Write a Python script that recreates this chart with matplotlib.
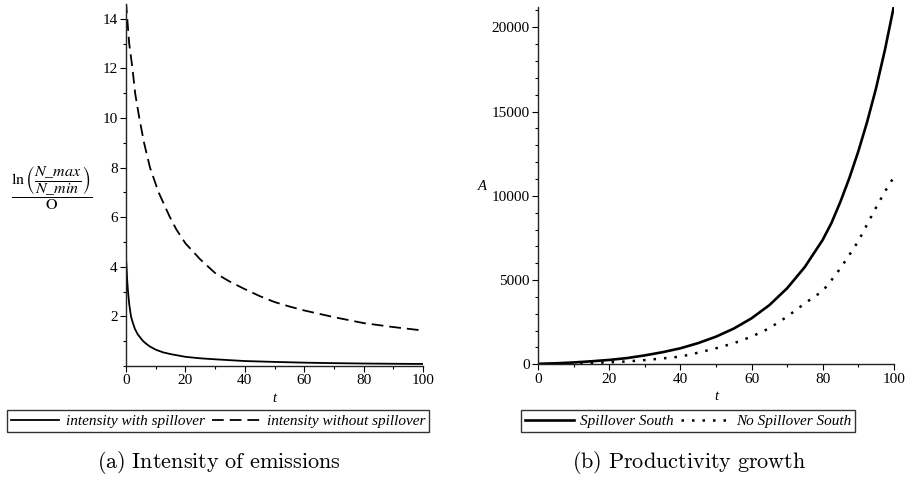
import matplotlib
matplotlib.use("Agg")
import matplotlib.pyplot as plt
from matplotlib.ticker import MultipleLocator, FixedLocator

plt.rcParams['font.family'] = ['Liberation Serif', 'DejaVu Serif']

# (a) intensity of emissions
t_with = [0, 0.2, 0.4, 0.7, 1.1, 1.7, 2.3, 3.0, 4.0, 5.8, 7, 8, 10, 12.5, 15, 20, 25,
          30, 40, 50, 60, 70, 80, 90, 100]
int_with = [4.4, 4.0, 3.5, 3.0, 2.5, 2.0, 1.75, 1.5, 1.27, 1.0, 0.88, 0.79, 0.66, 0.55,
            0.48, 0.37, 0.31, 0.27, 0.2, 0.165, 0.135, 0.115, 0.1, 0.09, 0.082]
t_without = [0, 0.45, 1.1, 2.2, 3.1, 4.5, 6.1, 8.1, 11, 14.8, 17, 20, 25, 30, 35, 40,
             45, 50, 55, 60, 70, 80, 90, 100]
int_without = [14.7, 14.0, 13.0, 12.0, 11.0, 10.0, 9.0, 8.0, 7.0, 6.0, 5.5, 4.95, 4.3,
               3.75, 3.4, 3.1, 2.82, 2.58, 2.4, 2.24, 1.97, 1.73, 1.57, 1.43]

# (b) productivity growth
t_prod = [0, 5, 10, 15, 20, 25, 30, 35, 40, 45, 50, 55, 60, 65, 70, 75, 80, 82.5, 85,
          87.5, 90, 92.5, 95, 97.5, 100]
spill_south = [30, 60, 110, 180, 260, 370, 530, 720, 950, 1260, 1640, 2120, 2730, 3510,
               4510, 5780, 7380, 8400, 9650, 11050, 12620, 14380, 16370, 18650, 21220]
t_nospill = [0, 10, 20, 25, 30, 35, 40, 45, 50, 55, 60, 65, 70, 75, 80, 82.5, 85, 87.5,
             90, 92.5, 95, 97.5, 100]
nospill_south = [0, 30, 120, 170, 250, 350, 455, 690, 950, 1250, 1640, 2140, 2830, 3620,
                 4350, 5000, 5700, 6490, 7300, 8300, 9300, 10250, 11100]

legend_a = ["intensity with spillover", "intensity without spillover"]
legend_b = ["Spillover South", "No Spillover South"]
captions = [r"$\mathrm{(a)\ Intensity\ of\ emissions}$",
            r"$\mathrm{(b)\ Productivity\ growth}$"]

fig = plt.figure(figsize=(9.06, 4.84), dpi=100)
ax1 = fig.add_axes([0.139, 0.2438, 0.328, 0.748])
ax2 = fig.add_axes([0.594, 0.2473, 0.3925, 0.738])


def maple_axes(ax):
    ax.spines['top'].set_visible(False)
    ax.spines['right'].set_visible(False)
    for s in ('left', 'bottom'):
        ax.spines[s].set_linewidth(1.0)
        ax.spines[s].set_color('#222222')
    ax.tick_params(which='major', direction='out', length=4, width=0.8,
                   labelsize=11, pad=2)
    ax.tick_params(which='minor', direction='out', length=2.5, width=0.8)
    ax.xaxis.set_major_locator(MultipleLocator(20))
    ax.xaxis.set_minor_locator(MultipleLocator(10))
    ax.set_xlim(0, 100)
    ax.set_xlabel("t", style='italic', fontsize=10.5, labelpad=3)


maple_axes(ax1)
l1, = ax1.plot(t_with, int_with, color='black', lw=1.3)
l2, = ax1.plot(t_without, int_without, color='black', lw=1.3, ls=(0, (6.5, 3.3)))
ax1.set_ylim(0, 14.6)
ax1.yaxis.set_major_locator(FixedLocator([2, 4, 6, 8, 10, 12, 14]))
ax1.yaxis.set_minor_locator(MultipleLocator(1))
fig.text(52 / 906, 1 - 188 / 484,
         r"$\dfrac{\ln\left(\dfrac{N\_max}{N\_min}\right)}{\mathrm{O}}$",
         fontsize=11.5, math_fontfamily='stix', ha='center', va='center')

maple_axes(ax2)
l3, = ax2.plot(t_prod, spill_south, color='black', lw=1.9)
l4, = ax2.plot(t_nospill, nospill_south, color='black', lw=1.8, ls=(0, (1, 3.2)))
ax2.set_ylim(0, 21200)
ax2.yaxis.set_major_locator(MultipleLocator(5000))
ax2.yaxis.set_minor_locator(MultipleLocator(1000))
fig.text(482 / 906, 1 - 186 / 484, "A", style='italic', fontsize=10.5,
         ha='center', va='center')

leg_kw = dict(loc='center', ncol=2, frameon=True, fancybox=False, edgecolor='black',
              prop={'style': 'italic', 'size': 11},
              handlelength=3.2, handletextpad=0.4, columnspacing=0.5,
              borderpad=0.25, borderaxespad=0)
lg1 = fig.legend([l1, l2], legend_a, bbox_to_anchor=(218 / 906, 1 - 421 / 484), **leg_kw)
lg2 = fig.legend([l3, l4], legend_b, bbox_to_anchor=(688 / 906, 1 - 421 / 484), **leg_kw)
for lg in (lg1, lg2):
    lg.get_frame().set_linewidth(1.0)

fig.text(219 / 906, 1 - 463 / 484, captions[0], fontsize=16, math_fontfamily='cm',
         ha='center', va='center')
fig.text(689 / 906, 1 - 463 / 484, captions[1], fontsize=16, math_fontfamily='cm',
         ha='center', va='center')

fig.savefig("out.png", dpi=100)
